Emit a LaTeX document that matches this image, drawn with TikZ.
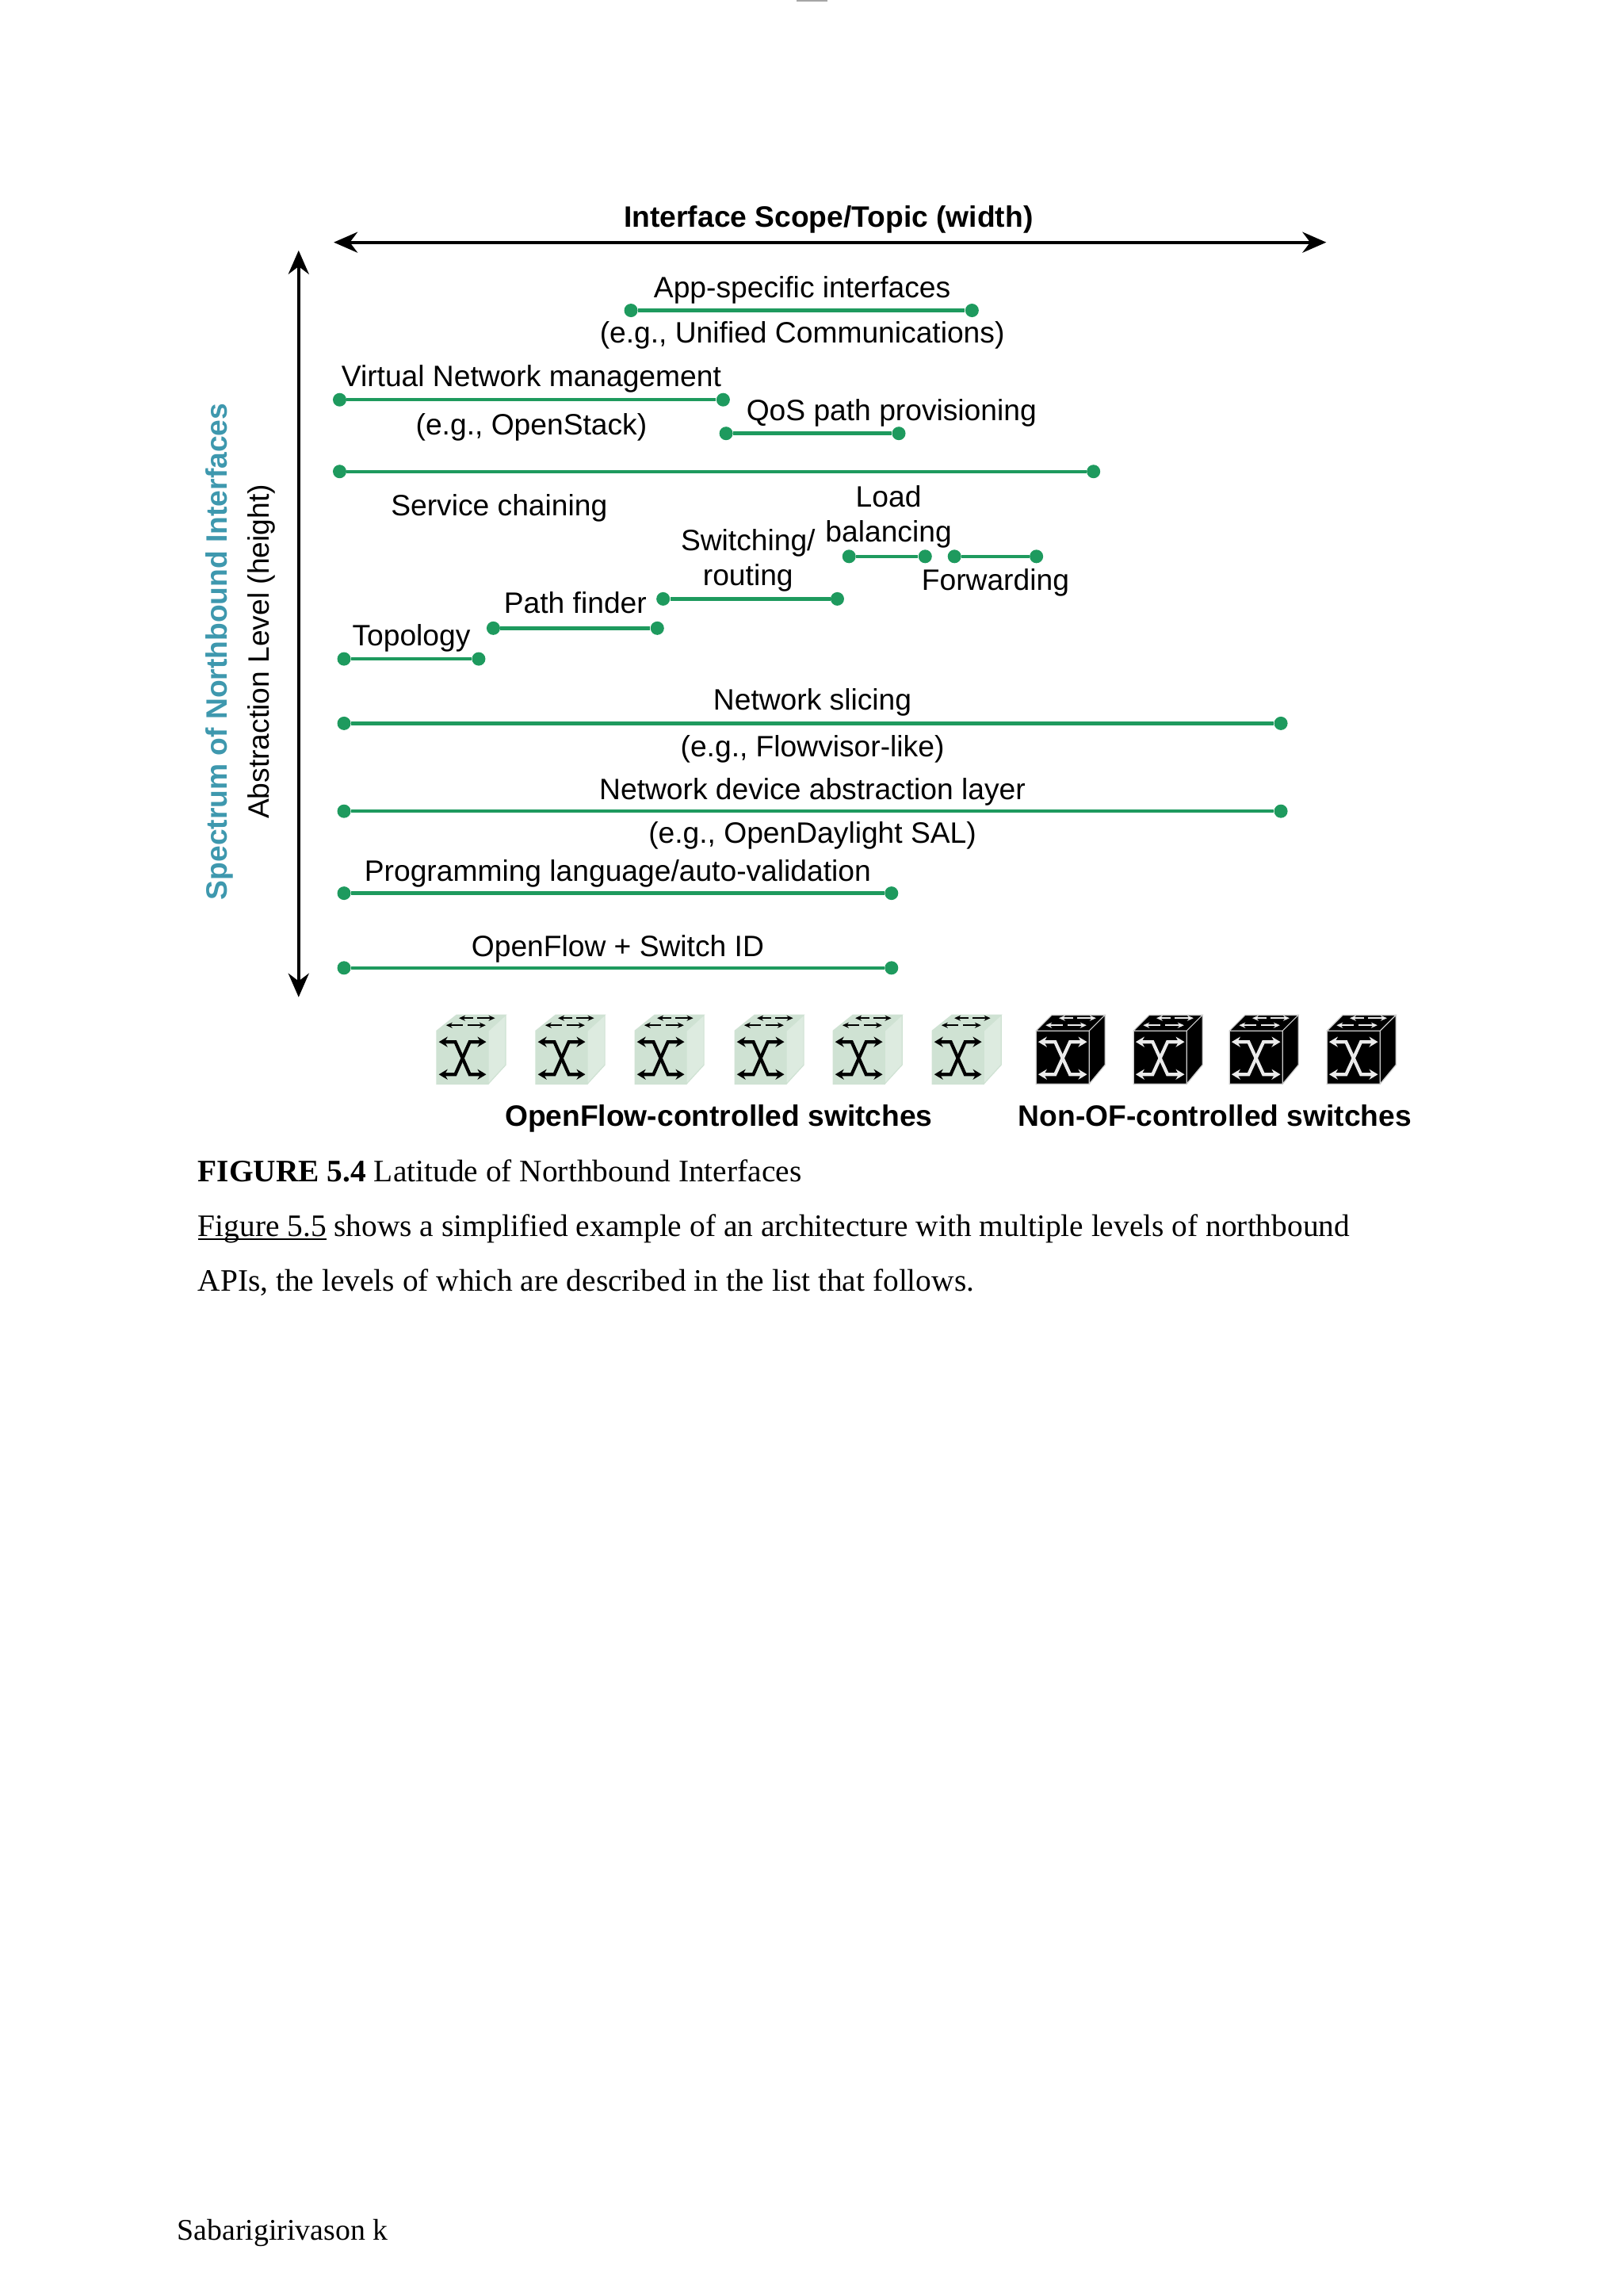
\documentclass[tikz,border=0pt]{standalone}
\usepackage{fontspec}
\setmainfont{Liberation Serif}
\newfontfamily\diafont{Liberation Sans}
\usetikzlibrary{arrows.meta}
\definecolor{segg}{HTML}{1E9A5E}
\definecolor{tealt}{HTML}{3E98AE}
\definecolor{swf}{HTML}{CFE2D3}
\definecolor{sws}{HTML}{DDEBE0}
\newcommand{\ulnk}[1]{\leavevmode\setbox0\hbox{#1}\rlap{\rule[-2.2pt]{\wd0}{.9pt}}\box0\relax}
\tikzset{
  lab/.style={inner sep=0pt,text height=1.34em,text depth=.22em,font=\diafont\fontsize{18.6}{20}\selectfont,text=black},
  blab/.style={lab,font=\diafont\bfseries\fontsize{18.6}{20}\selectfont},
  rlab/.style={inner sep=0pt,text height=1.14em,text depth=.22em,font=\diafont\fontsize{18.6}{20}\selectfont,text=black,rotate=90},
  body/.style={inner sep=0pt,anchor=base west,font=\fontsize{19.7}{22}\selectfont},
  dotn/.style={circle,fill=segg,inner sep=0pt,minimum size=8.5pt},
  seg/.style={draw=segg,line width=2.2pt},
  axis/.style={draw=black,line width=2pt,{Stealth[length=15pt,width=13pt]}-{Stealth[length=15pt,width=13pt]}},
  swx/.style={line width=2.1pt,{Stealth[length=5.5pt,width=6.5pt]}-{Stealth[length=5.5pt,width=6.5pt]}},
  swt/.style={line width=.9pt,{Stealth[length=4pt,width=3.5pt]}-},
  swu/.style={line width=.9pt,-{Stealth[length=4pt,width=3.5pt]}},
}
% name, x1, x2, y
\newcommand{\segm}[4]{%
  \node[dotn] (#1a) at (#2,#4) {};
  \node[dotn] (#1b) at (#3,#4) {};
  \draw[seg] (#1a) -- (#1b);}
% switch: x(px), width, depth, face, side, ink, outline, top offset
\newcommand{\swbox}[8]{%
  \begin{scope}[x=.5pt,y=-.5pt,shift={(#1*.5pt,1367*-.5pt)}]
    \fill[#5] (#2,0) -- (#2+#3,-24) -- (#2+#3,-87) -- (#2,-67) -- cycle;
    \fill[#4] (0,-67) -- (#8,-87) -- (#2+#3,-87) -- (#2,-67) -- cycle;
    \fill[#4] (0,0) rectangle (#2,-67);
    \draw[#7,line width=.6pt] (0,0) rectangle (#2,-67) (0,-67) -- (#8,-87) -- (#2+#3,-87) -- (#2,-67) (#2+#3,-87) -- (#2+#3,-24) -- (#2,0);
    \begin{scope}[#6]
      \draw[swx] (#2*.04,-53) -- (#2*.36,-53) -- (#2*.64,-12) -- (#2*.96,-12);
      \draw[swx] (#2*.04,-12) -- (#2*.36,-12) -- (#2*.64,-53) -- (#2*.96,-53);
      \draw[swt] (#2*.43,-83) -- (#2*.70,-83);
      \draw[swu] (#2*.78,-83) -- (#2*1.13,-83);
      \draw[swt] (#2*.18,-74) -- (#2*.50,-74);
      \draw[swu] (#2*.60,-74) -- (#2*.95,-74);
    \end{scope}
  \end{scope}}
\begin{document}
\begin{tikzpicture}[x=.92335pt,y=-.92335pt]
\useasboundingbox[fill=white] (0,0) rectangle (1109,1568);
\fill[black!35] (544,0) rectangle (565,1.2);

% axes
\coordinate (hl) at (228,165.5); \coordinate (hr) at (906,165.5);
\coordinate (vt) at (204,171); \coordinate (vb) at (204,681);
\draw[axis] (hl) -- (hr);
\draw[axis] (vt) -- (vb);
\node[blab] (ttop) at (566,149) {Interface Scope/Topic (width)};
\node[rlab,font=\diafont\bfseries\fontsize{18.6}{20}\selectfont,text=tealt] (tspec) at (150,445) {Spectrum of Northbound Interfaces};
\node[rlab] (tabs) at (179,445) {Abstraction Level (height)};

% segments
\segm{app}{431}{664}{212}
\segm{virt}{232}{494}{273}
\segm{qos}{496}{614}{296}
\segm{serv}{232}{747}{322}
\segm{lb}{580}{632}{380}
\segm{fwd}{652}{708}{380}
\segm{swr}{453}{572}{409}
\segm{path}{337}{449}{429}
\segm{topo}{235}{327}{450}
\segm{slice}{235}{875}{494}
\segm{ndal}{235}{875}{554}
\segm{prog}{235}{609}{610}
\segm{of}{235}{609}{661}

% labels
\node[lab] (t1) at (548,197) {App-specific interfaces};
\node[lab] (t2) at (548,228) {(e.g., Unified Communications)};
\node[lab] (t3) at (363,258) {Virtual Network management};
\node[lab] (t4) at (363,291) {(e.g., OpenStack)};
\node[lab] (t5) at (609,281) {QoS path provisioning};
\node[lab] (t6) at (341,346) {Service chaining};
\node[lab] (t7) at (607,340) {Load};
\node[lab] (t8) at (607,364) {balancing};
\node[lab] (t9) at (511,370) {Switching/};
\node[lab] (t10) at (511,394) {routing};
\node[lab] (t11) at (680,397) {Forwarding};
\node[lab] (t12) at (393,413) {Path finder};
\node[lab] (t13) at (281,435) {Topology};
\node[lab] (t14) at (555,479) {Network slicing};
\node[lab] (t15) at (555,511) {(e.g., Flowvisor-like)};
\node[lab] (t16) at (555,540) {Network device abstraction layer};
\node[lab] (t17) at (555,570) {(e.g., OpenDaylight SAL)};
\node[lab] (t18) at (422,596) {Programming language/auto-validation};
\node[lab] (t19) at (422,647) {OpenFlow + Switch ID};

% switches
\swbox{551}{65}{22}{swf}{sws}{black}{swf}{25}
\swbox{676}{65}{22}{swf}{sws}{black}{swf}{25}
\swbox{801}{65}{22}{swf}{sws}{black}{swf}{25}
\swbox{927}{65}{22}{swf}{sws}{black}{swf}{25}
\swbox{1051}{65}{22}{swf}{sws}{black}{swf}{25}
\swbox{1176}{65}{22}{swf}{sws}{black}{swf}{25}
\swbox{1307}{67}{20}{black}{black}{white!92!black}{white!80!black}{20}
\swbox{1430}{67}{20}{black}{black}{white!92!black}{white!80!black}{20}
\swbox{1551}{67}{20}{black}{black}{white!92!black}{white!80!black}{20}
\swbox{1674}{67}{20}{black}{black}{white!92!black}{white!80!black}{20}
\node[blab] (ofs) at (491,763) {OpenFlow-controlled switches};
\node[blab] (nofs) at (830,763) {Non-OF-controlled switches};

% page text
\node[body] (cap) at (135,807) {\textbf{FIGURE 5.4} Latitude of Northbound Interfaces};
\node[body] (p1) at (135,844.5) {\ulnk{Figure 5.5} shows a simplified example of an architecture with multiple levels of northbound};
\node[body] (p2) at (135,881.5) {APIs, the levels of which are described in the list that follows.};
\node[body,font=\fontsize{18.9}{22}\selectfont] (foot) at (121,1530) {Sabarigirivason k};
\end{tikzpicture}
\end{document}
